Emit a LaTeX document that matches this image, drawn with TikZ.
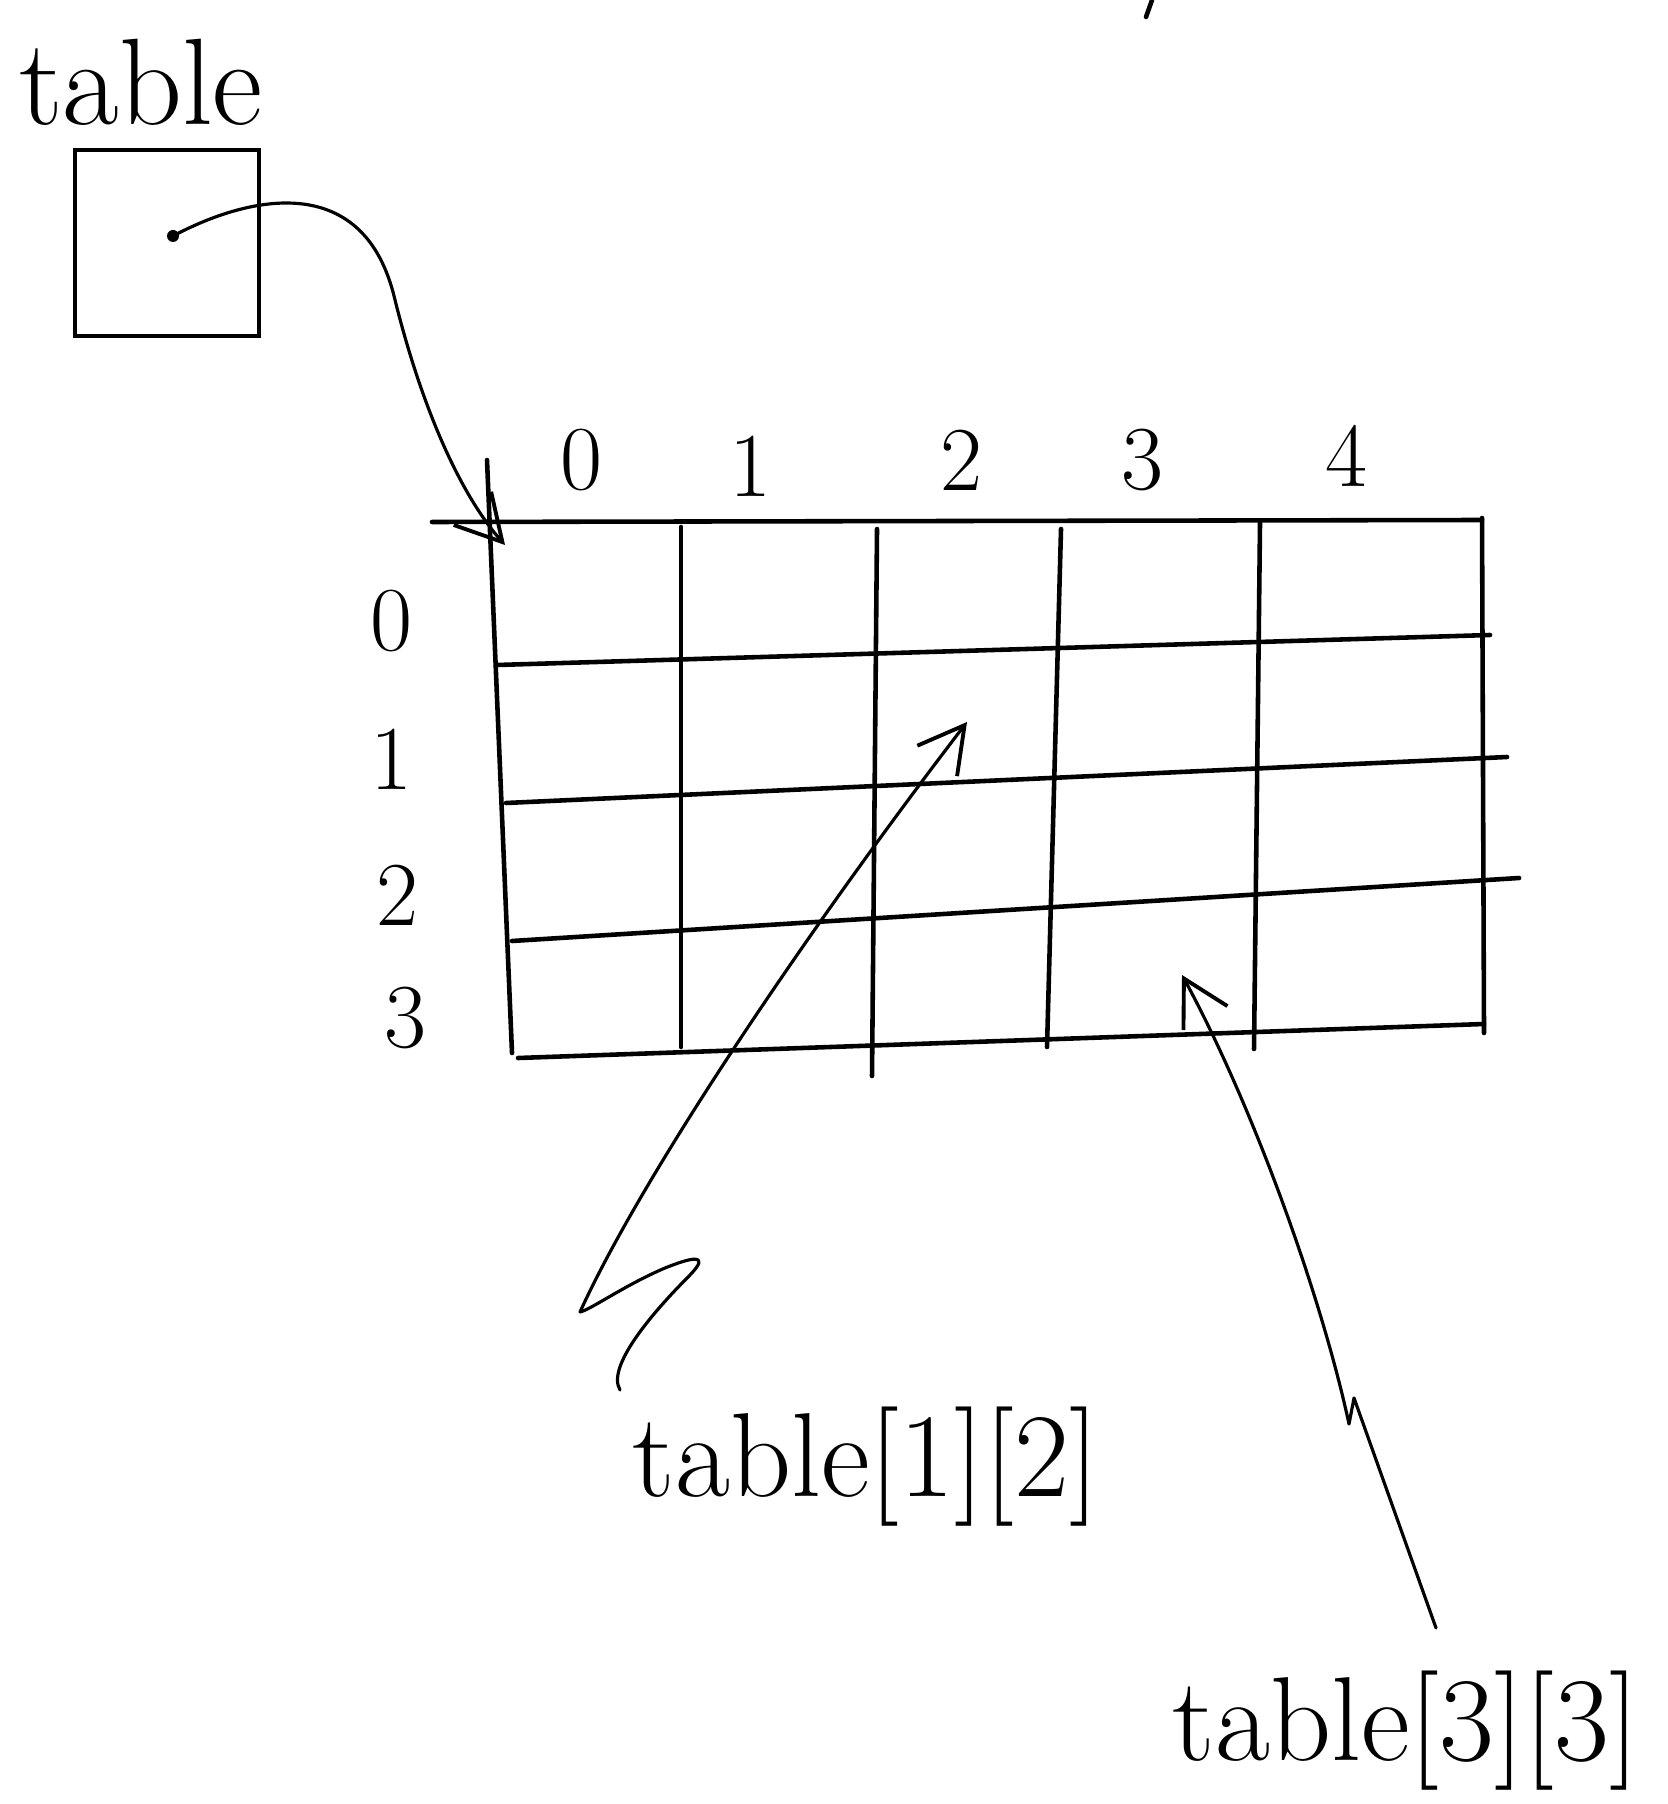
\documentclass[tikz,border=0pt]{standalone}
\usetikzlibrary{arrows.meta}
\begin{document}
\begin{tikzpicture}[x=0.01cm,y=-0.01cm,
  gridline/.style={line width=1.3pt, line cap=round, line join=round},
  conn/.style={line width=0.9pt, line cap=round, line join=round, -{Straight Barb[length=4.5mm,width=5mm,line width=1.1pt]}},
  lbl/.style={font=\fontsize{34}{40}\selectfont, inner sep=0pt, anchor=base},
  idx/.style={font=\fontsize{26}{30}\selectfont, inner sep=0pt}]
\useasboundingbox (0,0) rectangle (1667,1804);

% pointer variable
\node[lbl, font=\fontsize{35}{40}\selectfont] (tname) at (141,125) {table};
\node[draw, line width=1.3pt, minimum width=1.84cm, minimum height=1.86cm, inner sep=0pt] (tbox) at (167,243) {};
\coordinate (dot) at (173,236);
\fill (dot) circle (6);

% grid
\draw[gridline] (487,460) -- (512,1053);
\draw[gridline] (681,527) -- (681,1047);
\draw[gridline] (877,529) -- (872,1076);
\draw[gridline] (1061,529) -- (1047,1047);
\draw[gridline] (1260,523) -- (1254,1049);
\draw[gridline] (1482,518) -- (1484,1033);
\draw[gridline] (432,522) -- (1482,520);
\draw[gridline] (497,665) -- (1490,635);
\draw[gridline] (506,803) -- (1507,757);
\draw[gridline] (512,941) -- (1519,878);
\draw[gridline] (518,1058) -- (1484,1024);
\coordinate (corner) at (505,545);

% column indices
\node[idx] (c0) at (581,460) {0};
\node[idx] (c1) at (750,466) {1};
\node[idx] (c2) at (961,460) {2};
\node[idx] (c3) at (1142,460) {3};
\node[idx] (c4) at (1346,456) {4};
% row indices
\node[idx] (r0) at (391,621) {0};
\node[idx] (r1) at (391,759) {1};
\node[idx] (r2) at (397,895) {2};
\node[idx] (r3) at (405,1018) {3};

% stray mark at top
\draw[line width=1.3pt, line cap=round] (1152,0) -- (1146,17);

% pointer arrow
\draw[conn] (dot) .. controls (250,195) and (365,170) .. (395,300)
  .. controls (425,420) and (465,500) .. (corner);

% element labels
\node[lbl] (e12) at (866,1496) {table[1][2]};
\node[lbl] (e33) at (1406,1760) {table[3][3]};
\coordinate (tip12) at (967,722);
\coordinate (tip33) at (1182,975);
\coordinate (tail12) at (620,1390);
\coordinate (tail33) at (1436,1628);

\draw[conn] (tail12) .. controls (605,1365) and (660,1305) .. (690,1275)
  .. controls (712,1252) and (690,1258) .. (665,1268)
  .. controls (625,1285) and (590,1310) .. (580,1312)
  .. controls (640,1180) and (800,940) .. (tip12);
\draw[conn] (tail33) -- (1354,1398) -- (1349,1424)
  .. controls (1320,1290) and (1250,1100) .. (tip33);
\end{tikzpicture}
\end{document}
